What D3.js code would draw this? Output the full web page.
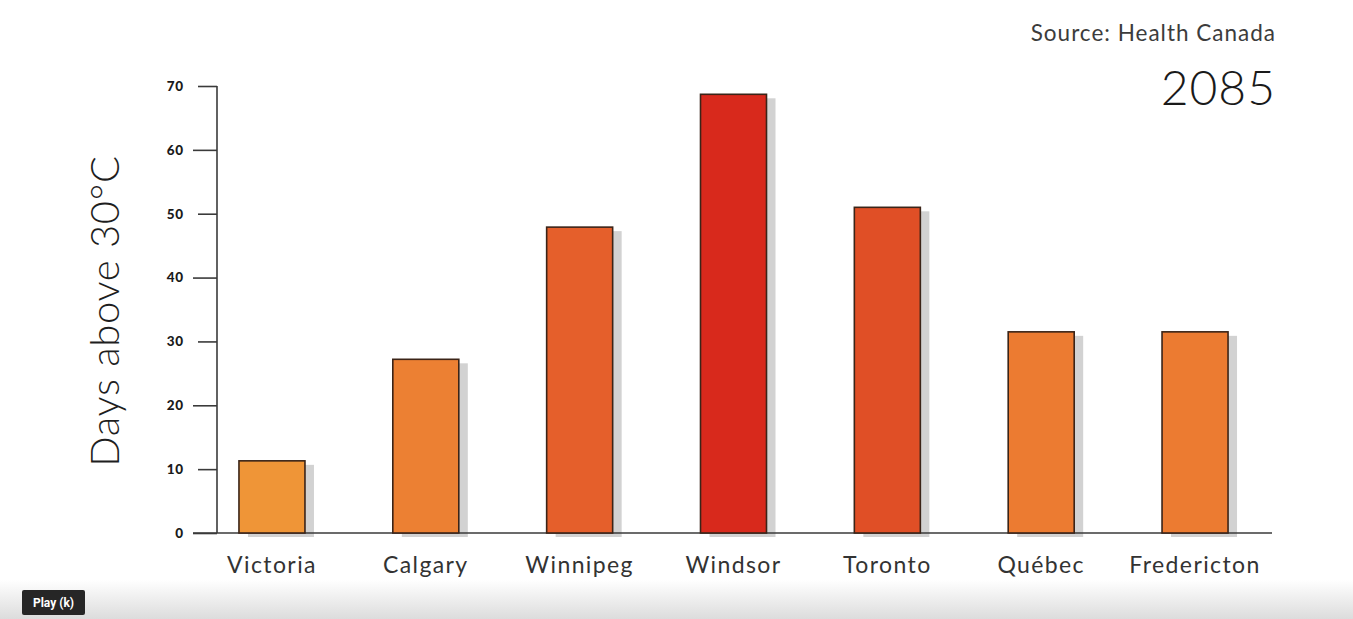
<!DOCTYPE html>
<html><head><meta charset="utf-8">
<script src="https://cdn.jsdelivr.net/npm/d3@7"></script>
<style>
html,body{margin:0;padding:0;background:#fff;}
svg{display:block;}
</style></head>
<body>
<svg id="chart" width="1353" height="619"></svg>
<script>
const categories = ["Victoria","Calgary","Winnipeg","Windsor","Toronto","Québec","Fredericton"];
const values = [11.3, 27.2, 47.9, 68.7, 51.0, 31.5, 31.5];
const barColors = ["#EF9537","#EC8033","#E55F2B","#D8291C","#E04F26","#EC7B31","#EC7B31"];
const yTicks = [0,10,20,30,40,50,60,70];
const yTitle = "Days above 30°C";
const sourceText = "Source: Health Canada";
const yearText = "2085";

const svg = d3.select("#chart");
const W = 1353, H = 619;

// bottom player gradient
const defs = svg.append("defs");
const grad = defs.append("linearGradient").attr("id","fade").attr("x1",0).attr("y1",0).attr("x2",0).attr("y2",1);
grad.append("stop").attr("offset","0%").attr("stop-color","#ffffff");
grad.append("stop").attr("offset","100%").attr("stop-color","#dcdcdc");
svg.append("rect").attr("x",0).attr("y",580).attr("width",W).attr("height",H-580).attr("fill","url(#fade)");

const y = d3.scaleLinear().domain([0,70]).range([533,86]);
const x = d3.scaleBand().domain(categories).range([200.5,1266.5]).paddingInner(0.571).paddingOuter(0.25);

// axes
const yAxis = d3.axisLeft(y).tickValues(yTicks).tickSize(22).tickPadding(10).tickFormat(d3.format("d"));
const gy = svg.append("g").attr("transform","translate(217,0)").call(yAxis);
gy.select(".domain").remove();
gy.selectAll(".tick line").attr("stroke","#3a3a3a").attr("stroke-width",1.6)
  .attr("x1",0).attr("x2",(d,i)=> i%2===0 ? -24 : -19);
gy.selectAll(".tick text").attr("fill","#1a1a1a").style("font-family","Lato, 'Open Sans', sans-serif")
  .style("font-weight","900").style("font-size","13.5px").style("letter-spacing","0.8px").attr("x",-33);
svg.append("line").attr("x1",217).attr("x2",217).attr("y1",86).attr("y2",533)
  .attr("stroke","#3a3a3a").attr("stroke-width",1.6);

// shadows
svg.append("g").selectAll("rect").data(categories).join("rect")
  .attr("x",d=>x(d)+9).attr("y",(d,i)=>y(values[i])+4)
  .attr("width",x.bandwidth()).attr("height",(d,i)=>y(0)-y(values[i]))
  .attr("fill","#d2d2d2");

// baseline
svg.append("line").attr("x1",193).attr("x2",1272).attr("y1",533).attr("y2",533)
  .attr("stroke","#3a3a3a").attr("stroke-width",1.6);

// bars
svg.append("g").selectAll("rect").data(categories).join("rect")
  .attr("x",d=>x(d)).attr("y",(d,i)=>y(values[i]))
  .attr("width",x.bandwidth()).attr("height",(d,i)=>y(0)-y(values[i]))
  .attr("fill",(d,i)=>barColors[i]).attr("stroke","#3b2418").attr("stroke-width",1.6);

// x labels
const xAxis = d3.axisBottom(x).tickSize(0).tickPadding(0);
const gx = svg.append("g").attr("transform","translate(0,533)").call(xAxis);
gx.select(".domain").remove();
gx.selectAll(".tick text").attr("y",24).attr("dy","0.71em").attr("fill","#333")
  .style("font-family","Lato, 'Open Sans', sans-serif").style("font-size","23px").style("font-weight","400")
  .style("letter-spacing","1.4px");

// y title
svg.append("text").attr("transform","translate(119,311) rotate(-90)").attr("text-anchor","middle")
  .attr("fill","#1e1e1e").style("font-family","Lato, sans-serif").style("font-weight","300")
  .style("font-size","40px").style("letter-spacing","0.7px").text(yTitle);

// source & year
svg.append("text").attr("x",1276).attr("y",41).attr("text-anchor","end").attr("fill","#3c3c3c")
  .style("font-family","Lato, sans-serif").style("font-size","22.5px").style("letter-spacing","1px").text(sourceText);
svg.append("text").attr("x",1276).attr("y",105).attr("text-anchor","end").attr("fill","#1a1a1a")
  .style("font-family","Lato, sans-serif").style("font-weight","300").style("font-size","48px").style("letter-spacing","1px").text(yearText);

// play tooltip
svg.append("rect").attr("x",22).attr("y",590).attr("width",63).attr("height",25).attr("rx",2).attr("fill","#262626");
svg.append("text").attr("x",53.5).attr("y",607).attr("text-anchor","middle").attr("fill","#fff")
  .style("font-family","Roboto, Arial, sans-serif").style("font-weight","700").style("font-size","12px").text("Play (k)");
</script>
</body></html>
